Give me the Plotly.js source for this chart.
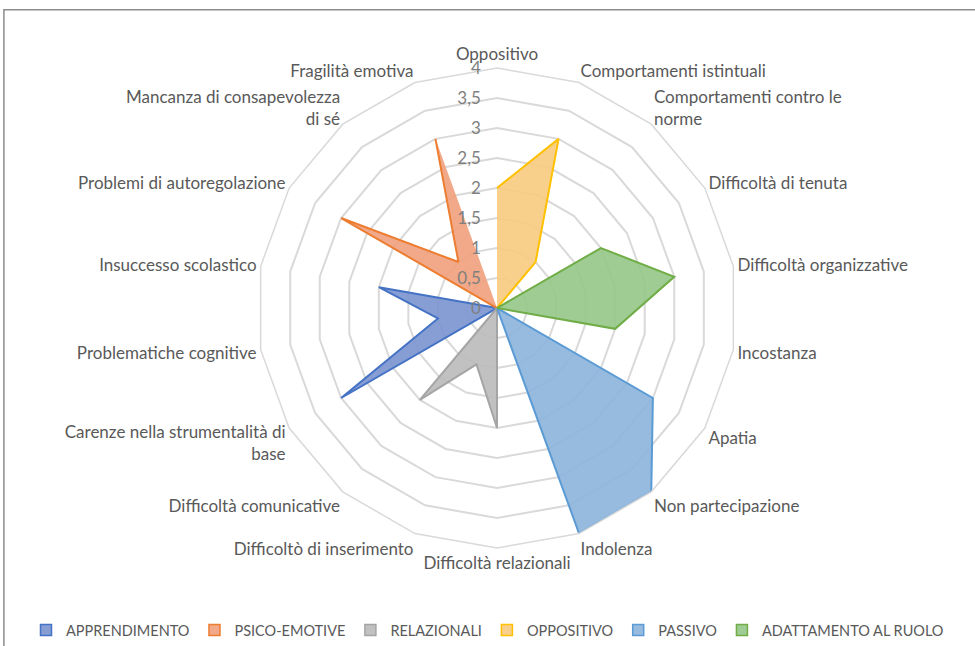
<!DOCTYPE html>
<html>
<head>
<meta charset="utf-8">
<script src="https://cdn.plot.ly/plotly-3.0.1.min.js"></script>
<style>
  html, body { margin: 0; padding: 0; background: #fff; }
  #chart { width: 975px; height: 646px; }
</style>
</head>
<body>
<div id="chart"></div>
<script>
// Categories, clockwise from the top
const categories = [
    'Oppositivo',
    'Comportamenti istintuali',
    'Comportamenti contro le<br>norme',
    'Difficoltà di tenuta',
    'Difficoltà organizzative',
    'Incostanza',
    'Apatia',
    'Non partecipazione',
    'Indolenza',
    'Difficoltà relazionali',
    'Difficoltò di inserimento',
    'Difficoltà comunicative',
    'Carenze nella strumentalità di<br>base',
    'Problematiche cognitive',
    'Insuccesso scolastico',
    'Problemi di autoregolazione',
    'Mancanza di consapevolezza<br>di sé',
    'Fragilità emotiva'
];

// Series values (one per category)
const apprendimento = [0, 0, 0, 0, 0, 0, 0, 0, 0, 0, 0, 0, 3, 1, 2, 0, 0, 0];
const psicoEmotive  = [0, 0, 0, 0, 0, 0, 0, 0, 0, 0, 0, 0, 0, 0, 0, 3, 1, 3];
const relazionali   = [0, 0, 0, 0, 0, 0, 0, 0, 0, 2, 1, 2, 0, 0, 0, 0, 0, 0];
const oppositivo    = [2, 3, 1, 0, 0, 0, 0, 0, 0, 0, 0, 0, 0, 0, 0, 0, 0, 0];
const passivo       = [0, 0, 0, 0, 0, 0, 3, 4, 4, 0, 0, 0, 0, 0, 0, 0, 0, 0];
const adattamento   = [0, 0, 0, 2, 3, 2, 0, 0, 0, 0, 0, 0, 0, 0, 0, 0, 0, 0];

const seriesNames = ['APPRENDIMENTO', 'PSICO-EMOTIVE', 'RELAZIONALI', 'OPPOSITIVO', 'PASSIVO', 'ADATTAMENTO AL RUOLO'];
const seriesValues = [apprendimento, psicoEmotive, relazionali, oppositivo, passivo, adattamento];

// Excel office palette (outline) and the softer gradient fills
const lineColors = ['#4472C4', '#ED7D31', '#A5A5A5', '#FFC000', '#5B9BD5', '#70AD47'];
const fillColors = [
    'rgba(122, 148, 208, 0.9)',
    'rgba(240, 160, 124, 0.9)',
    'rgba(186, 186, 186, 0.9)',
    'rgba(247, 203, 128, 0.9)',
    'rgba(140, 179, 219, 0.9)',
    'rgba(148, 198, 134, 0.9)'
];

// Filled radar areas (legend handled by the square markers below)
const traces = seriesNames.map((name, i) => ({
    type: 'scatterpolar',
    mode: 'lines',
    name: name,
    r: seriesValues[i],
    theta: categories,
    fill: 'toself',
    fillcolor: fillColors[i],
    line: { color: lineColors[i], width: 2 },
    showlegend: false,
    hoverinfo: 'name+r+theta'
}));

// Square legend swatches like Excel
seriesNames.forEach((name, i) => {
    traces.push({
        type: 'scatter',
        mode: 'markers',
        name: name,
        x: [null],
        y: [null],
        marker: { symbol: 'square', size: 11, color: fillColors[i], line: { color: lineColors[i], width: 1.5 } },
        hoverinfo: 'skip'
    });
});

const gridGray = '#D9D9D9';
const textGray = '#595959';

const layout = {
    width: 975,
    height: 646,
    margin: { l: 0, r: 0, t: 0, b: 0 },
    paper_bgcolor: '#ffffff',
    separators: ', ',
    font: { family: 'Lato, "Open Sans", sans-serif', size: 17, color: textGray },
    showlegend: true,
    xaxis: { visible: false, domain: [0, 0.01] },
    yaxis: { visible: false, domain: [0, 0.01] },
    legend: {
        orientation: 'h',
        x: 0.5,
        xanchor: 'center',
        y: 0.0,
        yanchor: 'bottom',
        font: { size: 14.5, color: textGray },
        itemwidth: 30,
        traceorder: 'normal'
    },
    polar: {
        domain: { x: [0.2636, 0.7559], y: [0.1517, 0.8947] },
        bgcolor: 'rgba(0,0,0,0)',
        gridshape: 'linear',
        angularaxis: {
            type: 'category',
            categoryorder: 'array',
            categoryarray: categories,
            rotation: 90,
            direction: 'clockwise',
            showgrid: false,
            showline: true,
            linecolor: gridGray,
            linewidth: 1.5,
            ticks: '',
            tickfont: { size: 17, color: textGray }
        },
        radialaxis: {
            range: [0, 4],
            dtick: 0.5,
            angle: 90,
            tickangle: 90,
            side: 'counterclockwise',
            ticksuffix: '\u00a0\u00a0\u00a0',
            showline: false,
            ticks: '',
            gridcolor: gridGray,
            gridwidth: 1.5,
            tickfont: { size: 17, color: '#7F7F7F' }
        }
    },
    shapes: [{
        type: 'rect',
        xref: 'paper', yref: 'paper',
        x0: 0.004, x1: 1.05, y0: -0.05, y1: 0.985,
        line: { color: '#8C8C8C', width: 1.5 },
        fillcolor: 'rgba(0,0,0,0)'
    }]
};

Plotly.newPlot('chart', traces, layout, { displayModeBar: false, responsive: false });
</script>
</body>
</html>
